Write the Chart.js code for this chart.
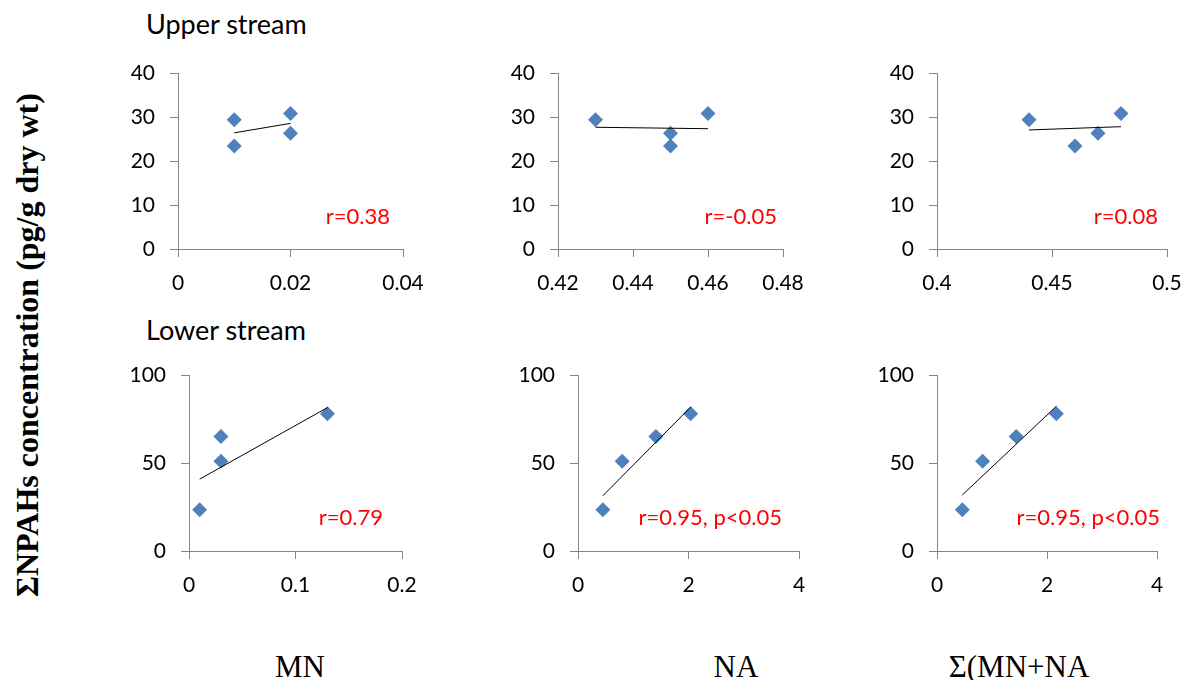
<!DOCTYPE html>
<html>
<head>
<meta charset="utf-8">
<script src="https://cdn.jsdelivr.net/npm/chart.js@4.4.0/dist/chart.umd.min.js"></script>
<style>
  body { margin: 0; width: 1185px; height: 680px; background: #fff; position: relative; overflow: hidden; }
  .txt { position: absolute; white-space: nowrap; line-height: 1; color: #000; }
  .sans { font-family: Lato, sans-serif; font-size: 27px; }
  .serif { font-family: "Liberation Serif", serif; font-size: 31px; transform: translate(-50%, -50%); }
  canvas { position: absolute; }
</style>
</head>
<body>
<div class="txt sans" style="left:146px; top:10px;">Upper stream</div>
<div class="txt sans" style="left:146px; top:316px;">Lower stream</div>
<div class="txt serif" style="left:27px; top:345px; font-size:32px; font-weight:bold; transform: translate(-50%, -50%) rotate(-90deg);">ΣNPAHs concentration (pg/g dry wt)</div>
<div class="txt serif" style="left:300px; top:666px;">MN</div>
<div class="txt serif" style="left:736px; top:666px;">NA</div>
<div class="txt serif" style="left:1019px; top:666px;">Σ(MN+NA</div>

<script>
// upper stream sites (4), values in pg/g and ratios
const upperConc = [29.4, 23.4, 30.8, 26.3];
const upperMN = [0.01, 0.01, 0.02, 0.02];
const upperNA = [0.43, 0.45, 0.46, 0.45];
const upperSum = [0.44, 0.46, 0.48, 0.47];

// lower stream sites (4)
const lowerConc = [23.5, 51, 65, 78];
const lowerMN = [0.01, 0.03, 0.03, 0.13];
const lowerNA = [0.45, 0.80, 1.41, 2.04];
const lowerSum = [0.46, 0.83, 1.44, 2.17];

// tick labels
const ticksUpperY = [0, 10, 20, 30, 40];
const ticksLowerY = [0, 50, 100];
const ticksUpperMN = [0, 0.02, 0.04];
const ticksUpperNA = [0.42, 0.44, 0.46, 0.48];
const ticksUpperSum = [0.4, 0.45, 0.5];
const ticksLowerMN = [0, 0.1, 0.2];
const ticksLowerNA = [0, 2, 4];
const ticksLowerSum = [0, 2, 4];

// correlation notes
const rNotes = ['r=0.38', 'r=-0.05', 'r=0.08', 'r=0.79', 'r=0.95, p<0.05', 'r=0.95, p<0.05'];

const AXIS = '#868686';
const TICK_FONT = { family: 'Lato', size: 21 };
// canvas margins round the plot box; top/right must exceed the label overhang
const Y_W = 62, TOP_PAD = 30, X_H = 54, RIGHT_PAD = 40;

function linearFit(xs, ys) {
  const n = xs.length;
  const mx = xs.reduce((a, b) => a + b, 0) / n;
  const my = ys.reduce((a, b) => a + b, 0) / n;
  let sxy = 0, sxx = 0;
  xs.forEach((x, i) => { sxy += (x - mx) * (ys[i] - my); sxx += (x - mx) * (x - mx); });
  const b = sxy / sxx;
  return x => my + b * (x - mx);
}

const fmt = v => String(+v.toFixed(4));

const noteText = {
  id: 'noteText',
  afterDatasetsDraw(chart, args, opts) {
    const { ctx, chartArea } = chart;
    ctx.save();
    ctx.font = '22px Lato';
    ctx.fillStyle = '#ff0000';
    ctx.textAlign = 'right';
    ctx.textBaseline = 'middle';
    ctx.fillText(opts.text, chartArea.right - opts.dx, chartArea.bottom - opts.dy);
    ctx.restore();
  }
};

function axis(ticks, fitKey, fitSize) {
  return {
    type: 'linear',
    min: ticks[0],
    max: ticks[ticks.length - 1],
    afterBuildTicks: s => { s.ticks = ticks.map(v => ({ value: v })); },
    afterFit: s => { s[fitKey] = fitSize; },
    border: { color: AXIS, width: 1 },
    grid: { drawOnChartArea: false, drawTicks: true, tickLength: 8, color: AXIS },
    ticks: { color: '#000', font: TICK_FONT, padding: fitKey === 'width' ? 15 : 14,
             autoSkip: false, maxRotation: 0, callback: v => fmt(v) }
  };
}

// area = [left, top, right, bottom] of the plot box on the page
function panel(area, xs, ys, xTicks, yTicks, note, dx, dy) {
  const [l, t, r, b] = area;
  const cv = document.createElement('canvas');
  cv.width = (r - l) + Y_W + RIGHT_PAD;
  cv.height = (b - t) + TOP_PAD + X_H;
  cv.style.left = (l - Y_W) + 'px';
  cv.style.top = (t - TOP_PAD) + 'px';
  document.body.appendChild(cv);

  const fit = linearFit(xs, ys);
  const x0 = Math.min(...xs), x1 = Math.max(...xs);

  new Chart(cv, {
    type: 'scatter',
    data: {
      datasets: [
        { data: [{ x: x0, y: fit(x0) }, { x: x1, y: fit(x1) }], showLine: true,
          borderColor: '#000', borderWidth: 1, pointRadius: 0, order: 0 },
        { data: xs.map((x, i) => ({ x, y: ys[i] })), pointStyle: 'rectRot', pointRadius: 7.5,
          backgroundColor: '#4f81bd', borderColor: '#4f81bd', borderWidth: 0, order: 1 }
      ]
    },
    options: {
      responsive: false,
      animation: false,
      layout: { padding: { top: TOP_PAD, right: RIGHT_PAD, left: 0, bottom: 0 } },
      plugins: { legend: { display: false }, tooltip: { enabled: false },
                 noteText: { text: note, dx, dy } },
      scales: { x: axis(xTicks, 'height', X_H), y: axis(yTicks, 'width', Y_W) }
    },
    plugins: [noteText]
  });
}

panel([178, 73, 403, 249], upperMN, upperConc, ticksUpperMN, ticksUpperY, rNotes[0], 13, 32);
panel([558, 73, 783, 249], upperNA, upperConc, ticksUpperNA, ticksUpperY, rNotes[1], 6, 32);
panel([937, 73, 1167, 249], upperSum, upperConc, ticksUpperSum, ticksUpperY, rNotes[2], 9, 32);
panel([189, 375, 402, 551], lowerMN, lowerConc, ticksLowerMN, ticksLowerY, rNotes[3], 19, 33);
panel([578, 375, 799, 551], lowerNA, lowerConc, ticksLowerNA, ticksLowerY, rNotes[4], 17, 33);
panel([937, 375, 1157, 551], lowerSum, lowerConc, ticksLowerSum, ticksLowerY, rNotes[5], -3, 33);
</script>
</body>
</html>
